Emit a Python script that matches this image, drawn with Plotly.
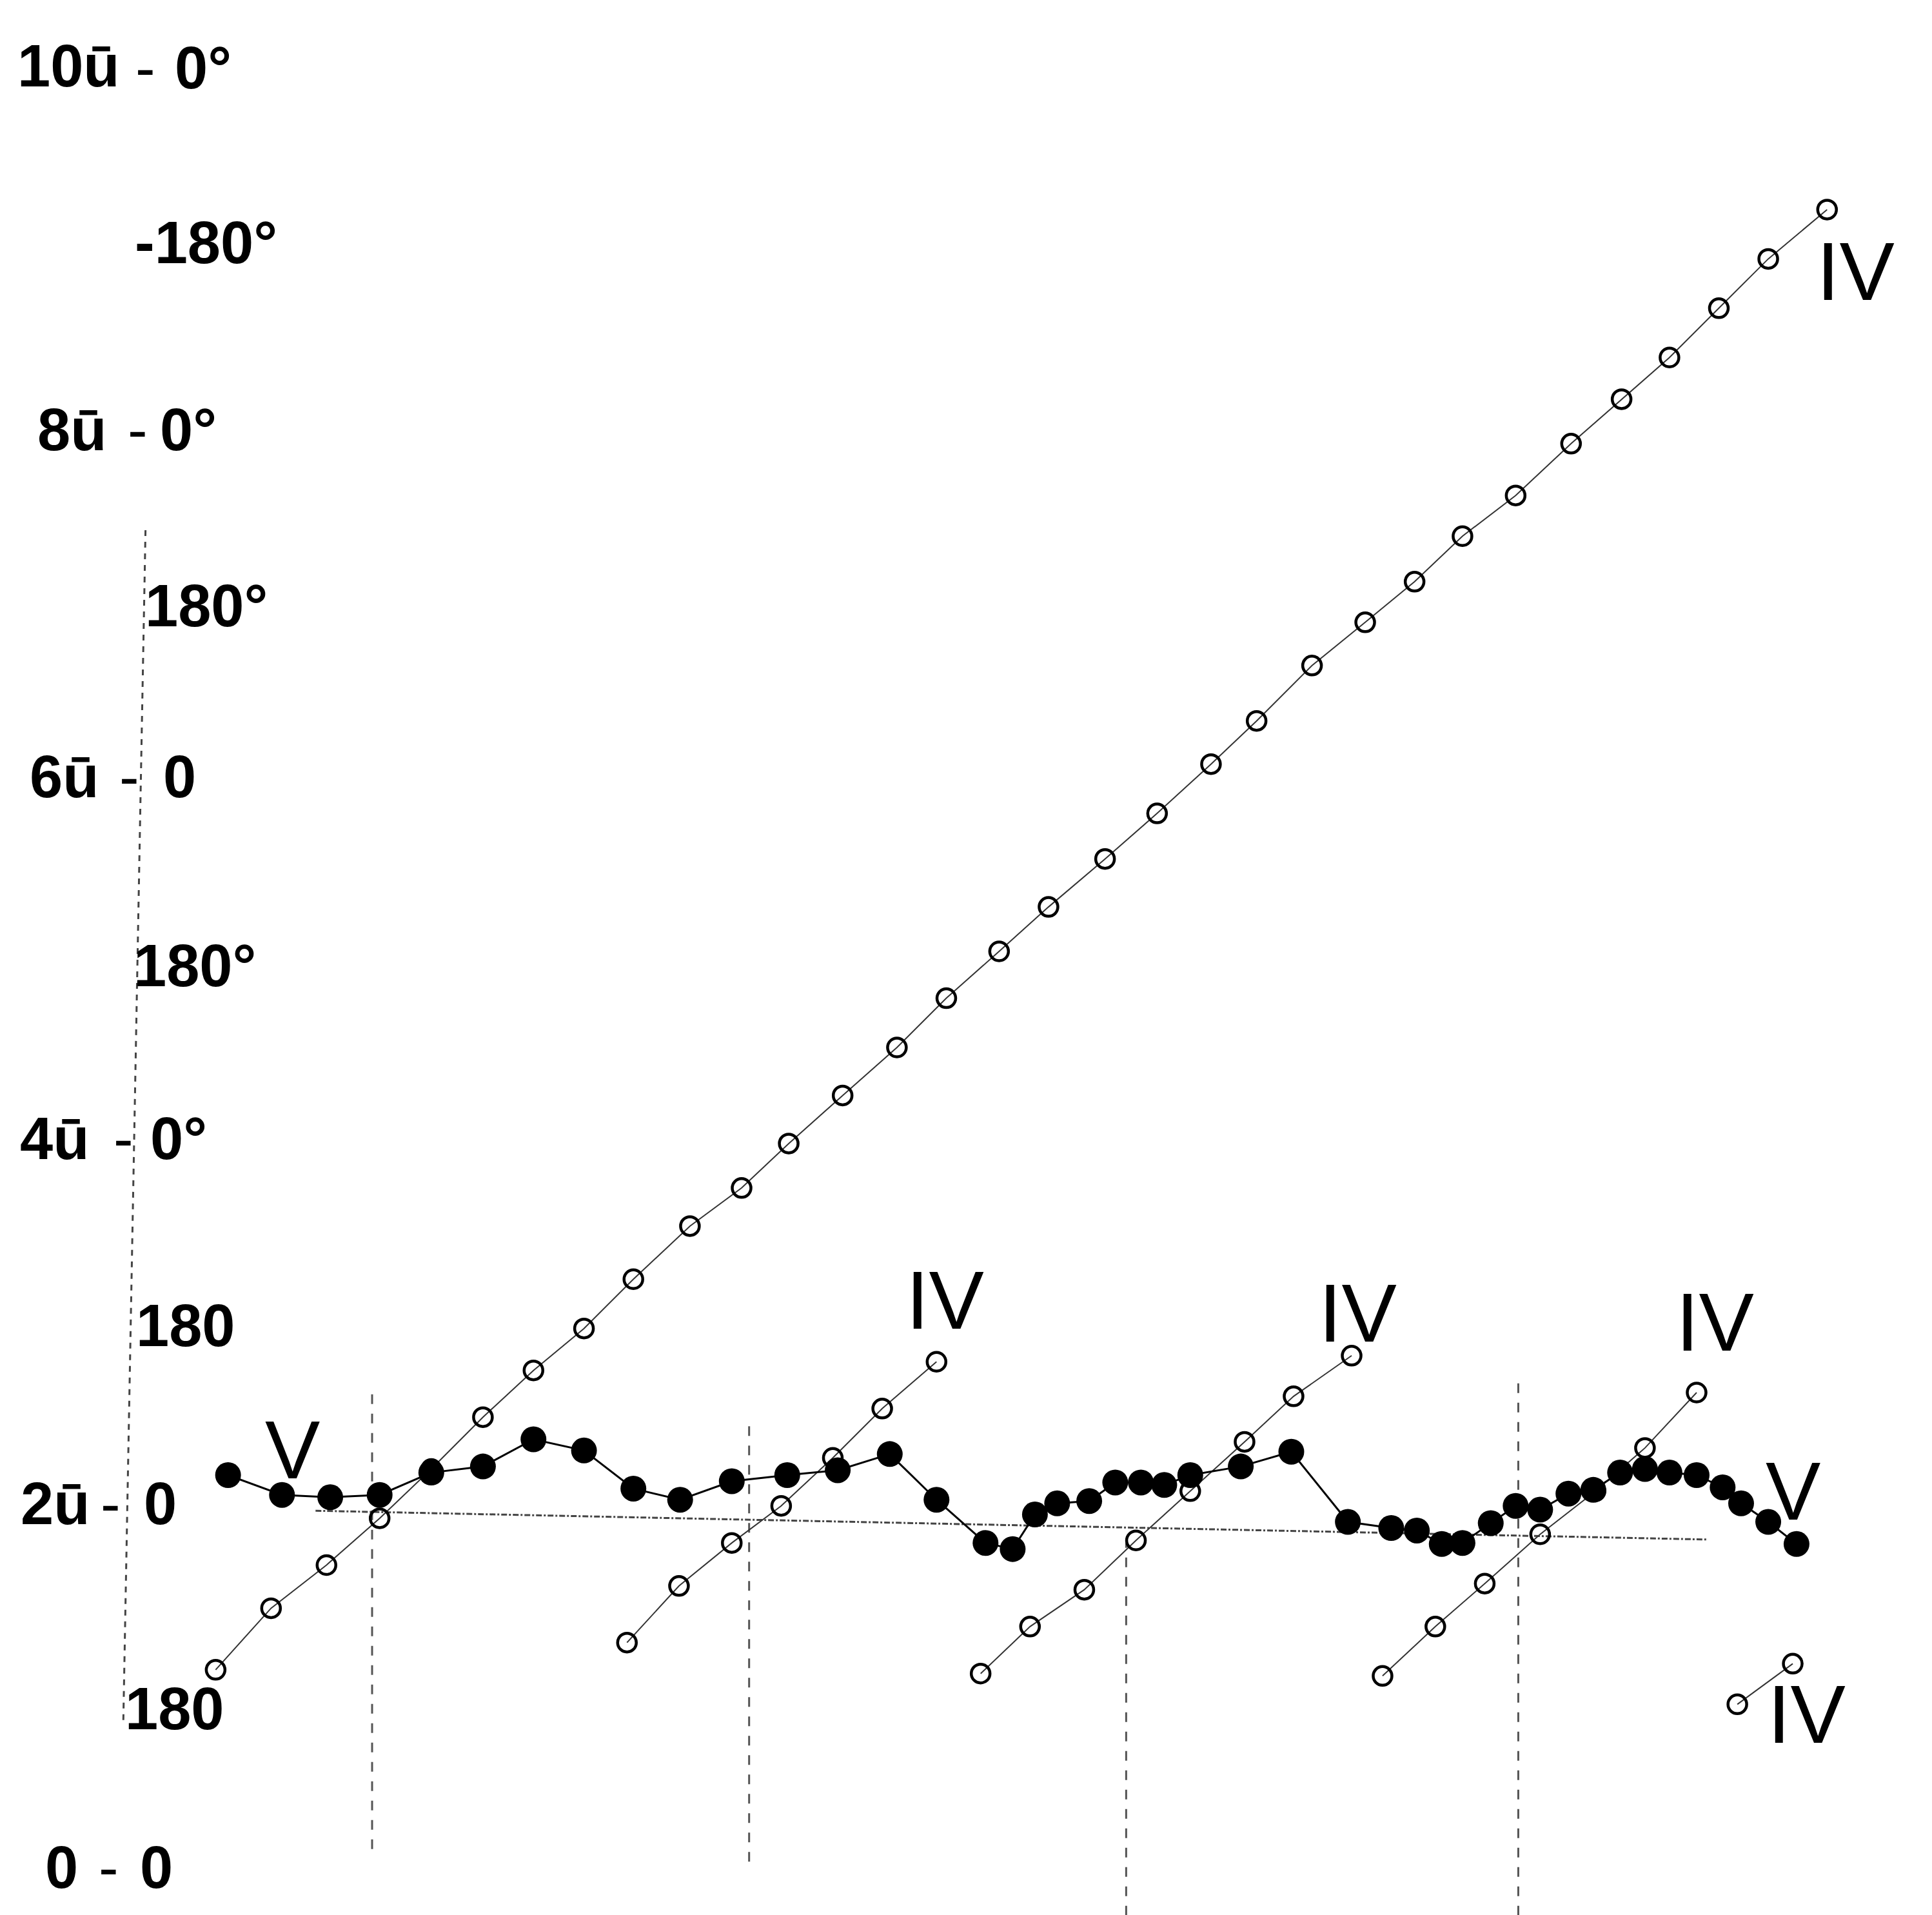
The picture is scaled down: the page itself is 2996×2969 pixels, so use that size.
import plotly.graph_objects as go

# ---------------- data (x: position, y: phase in units of ū; 1 ū = 180°) ----------------
# Curve IV (open circles) - long ascending branch
iv_main_x = [0.585, 0.732, 0.879, 1.020, 1.157, 1.294, 1.428, 1.562, 1.693, 1.843, 1.980,
             2.105, 2.248, 2.392, 2.523, 2.663, 2.794, 2.944, 3.082, 3.225, 3.346, 3.493,
             3.634, 3.765, 3.892, 4.033, 4.180, 4.314, 4.441, 4.572, 4.703, 4.859]
iv_main_y = [1.096, 1.438, 1.678, 1.938, 2.212, 2.500, 2.760, 2.993, 3.267, 3.562, 3.774,
             4.021, 4.288, 4.555, 4.829, 5.089, 5.336, 5.603, 5.856, 6.130, 6.370, 6.678,
             6.918, 7.144, 7.397, 7.623, 7.911, 8.158, 8.390, 8.664, 8.938, 9.212]

# Curve IV - reduced (wrapped) branches
iv_b1_x = [1.676, 1.814, 1.954, 2.085, 2.222, 2.353, 2.497]
iv_b1_y = [1.247, 1.562, 1.801, 2.007, 2.274, 2.548, 2.808]
iv_b2_x = [2.614, 2.745, 2.889, 3.026, 3.170, 3.314, 3.444, 3.598]
iv_b2_y = [1.075, 1.336, 1.541, 1.815, 2.089, 2.363, 2.616, 2.842]
iv_b3_x = [3.680, 3.820, 3.951, 4.098, 4.245, 4.376, 4.513]
iv_b3_y = [1.062, 1.336, 1.575, 1.849, 2.089, 2.329, 2.637]
iv_b4_x = [4.621, 4.768]
iv_b4_y = [0.904, 1.130]

# Curve V (filled circles)
v_x = [0.618, 0.761, 0.889, 1.020, 1.157, 1.294, 1.428, 1.562, 1.693, 1.817, 1.954,
       2.101, 2.235, 2.373, 2.497, 2.627, 2.699, 2.758, 2.817, 2.902, 2.971, 3.039,
       3.101, 3.170, 3.304, 3.438, 3.588, 3.703, 3.771, 3.837, 3.892, 3.967, 4.033,
       4.098, 4.173, 4.239, 4.310, 4.376, 4.441, 4.513, 4.582, 4.631, 4.703, 4.778]
v_y = [2.178, 2.068, 2.055, 2.068, 2.192, 2.226, 2.377, 2.315, 2.103, 2.041, 2.144,
       2.178, 2.205, 2.295, 2.041, 1.801, 1.767, 1.959, 2.021, 2.034, 2.137, 2.137,
       2.123, 2.178, 2.226, 2.308, 1.918, 1.884, 1.870, 1.795, 1.801, 1.911, 2.007,
       1.986, 2.075, 2.096, 2.192, 2.212, 2.192, 2.178, 2.110, 2.021, 1.918, 1.795]

# Reference guides
guide_vx = [1.0, 2.0, 3.0, 4.04]
guide_vtop = [2.64, 2.50, 1.80, 2.70]
guide_vbot = [0.10, 0.03, -0.27, -0.27]
base_x = [0.85, 4.54]
base_y = [1.98, 1.82]
axis_x = [0.399, 0.340]
axis_y = [7.43, 0.79]

# Axis tick labels: (value label, tick mark, phase label)
unit_labels = ["10ū", "8ū", "6ū", "4ū", "2ū", "0"]
unit_label_y = [10.01, 7.99, 6.06, 4.05, 2.02, 0.0]
unit_label_x = [0.196, 0.203, 0.183, 0.157, 0.160, 0.176]
phase_labels = ["0°", "-180°", "0°", "180°", "0", "180°", "0°", "180", "0", "180", "0"]
phase_label_x = [0.552, 0.560, 0.512, 0.560, 0.490, 0.530, 0.487, 0.505, 0.438, 0.477, 0.428]
phase_label_y = [10.0, 9.03, 7.99, 7.01, 6.06, 5.01, 4.05, 3.01, 2.02, 0.88, 0.0]
tick_x = [0.399, 0.379, 0.356, 0.340, 0.307, 0.301]
tick_y = [10.0, 7.99, 6.06, 4.05, 2.02, 0.0]

# Curve labels
curve_labels = ["IV", "IV", "IV", "IV", "IV", "V", "V"]
curve_label_x = [4.934, 2.520, 3.614, 4.562, 4.804, 0.788, 4.768]
curve_label_y = [8.87, 3.15, 3.08, 3.03, 0.85, 2.32, 2.09]

# ---------------- figure ----------------
fig = go.Figure()

# guides
for gx, gt, gb in zip(guide_vx, guide_vtop, guide_vbot):
    fig.add_trace(go.Scatter(x=[gx, gx], y=[gb, gt], mode="lines",
                             line=dict(color="#555", width=3, dash="longdash"),
                             hoverinfo="skip", showlegend=False))
fig.add_trace(go.Scatter(x=base_x, y=base_y, mode="lines",
                         line=dict(color="#444", width=3, dash="dashdot"),
                         hoverinfo="skip", showlegend=False))
fig.add_trace(go.Scatter(x=axis_x, y=axis_y, mode="lines",
                         line=dict(color="#444", width=3, dash="dash"),
                         hoverinfo="skip", showlegend=False))

open_marker = dict(symbol="circle-open", size=29, color="black", line=dict(width=4.5, color="black"))
for xs, ys in [(iv_main_x, iv_main_y), (iv_b1_x, iv_b1_y), (iv_b2_x, iv_b2_y),
               (iv_b3_x, iv_b3_y), (iv_b4_x, iv_b4_y)]:
    fig.add_trace(go.Scatter(x=xs, y=ys, mode="lines+markers",
                             line=dict(color="#333", width=2),
                             marker=open_marker, showlegend=False))

fig.add_trace(go.Scatter(x=v_x, y=v_y, mode="lines+markers",
                         line=dict(color="black", width=3),
                         marker=dict(symbol="circle", size=40, color="black"),
                         showlegend=False))

ann = []
lab_font = dict(family="Liberation Sans", size=92, color="black")
for t, x, y in zip(unit_labels, unit_label_x, unit_label_y):
    ann.append(dict(x=x, y=y, text="<b>%s</b>" % t, showarrow=False, font=lab_font,
                    xanchor="center", yanchor="middle"))
for t, x, y in zip(phase_labels, phase_label_x, phase_label_y):
    ann.append(dict(x=x, y=y, text="<b>%s</b>" % t, showarrow=False, font=lab_font,
                    xanchor="center", yanchor="middle"))
for x, y in zip(tick_x, tick_y):
    ann.append(dict(x=x, y=y, text="-", showarrow=False, font=lab_font,
                    xanchor="center", yanchor="middle"))
for t, x, y in zip(curve_labels, curve_label_x, curve_label_y):
    ann.append(dict(x=x, y=y, text=t, showarrow=False,
                    font=dict(family="Liberation Sans", size=128, color="black"),
                    xanchor="center", yanchor="middle"))

fig.update_layout(
    width=2996, height=2969,
    margin=dict(l=0, r=0, t=0, b=0),
    paper_bgcolor="white", plot_bgcolor="white",
    xaxis=dict(range=[0.0131, 5.1373], visible=False, showgrid=False, zeroline=False),
    yaxis=dict(range=[-0.267, 10.377], visible=False, showgrid=False, zeroline=False),
    annotations=ann,
    showlegend=False,
)

fig.write_html("out.html")
